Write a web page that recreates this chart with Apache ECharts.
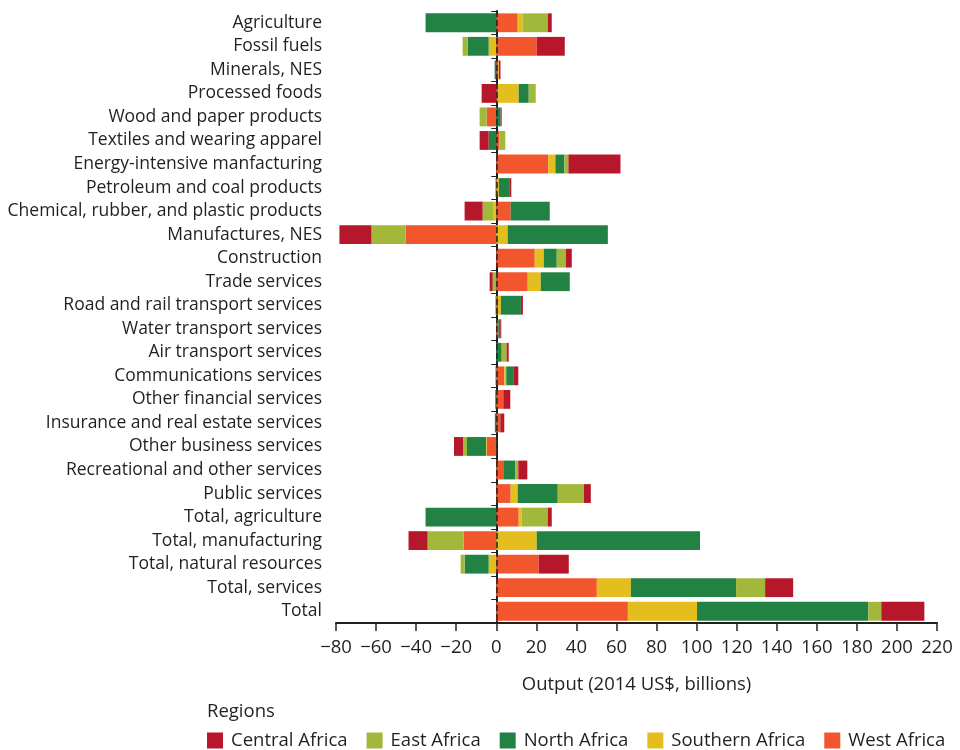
<!DOCTYPE html>
<html>
<head>
<meta charset="utf-8">
<script src="https://cdn.jsdelivr.net/npm/echarts@6/dist/echarts.min.js"></script>
<style>
  html, body { margin: 0; padding: 0; background: #fff; }
  #chart { width: 960px; height: 750px; }
</style>
</head>
<body>
<div id="chart"></div>
<script>
const categories = [
    'Agriculture', 'Fossil fuels', 'Minerals, NES', 'Processed foods',
    'Wood and paper products', 'Textiles and wearing apparel',
    'Energy-intensive manfacturing', 'Petroleum and coal products',
    'Chemical, rubber, and plastic products', 'Manufactures, NES',
    'Construction', 'Trade services', 'Road and rail transport services',
    'Water transport services', 'Air transport services',
    'Communications services', 'Other financial services',
    'Insurance and real estate services', 'Other business services',
    'Recreational and other services', 'Public services',
    'Total, agriculture', 'Total, manufacturing', 'Total, natural resources',
    'Total, services', 'Total'
];

// values in 2014 US$ billions
const westAfrica = [10.7, 20.2, 1.0, 0.5, -4.8, 1.5, 26, 0.3, 7.2, -45.3, 19.2, 15.7, 0.8,
    1.0, 0, 4, 3.5, 2, -4.8, 3.5, 7.2, 11.2, -16.3, 21.2, 50.2, 65.7];
const southernAfrica = [2.5, -3.8, 0.3, 10.7, 0, 0, 3.5, 1.0, -1.3, 5.7, 4.5, 6.5, 1.5,
    0, 0, 1, 0, 0, -0.3, 0, 3.5, 1.5, 20.2, -3.8, 17, 34.5];
const northAfrica = [-35.3, -10.5, -0.8, 5, 2.2, -3.8, 4.5, 5.2, 19.5, 50, 6.5, 14.5, 10,
    1, 2.7, 3.5, -0.5, -0.7, -9.5, 6, 20, -35.3, 81.5, -12, 52.5, 85.5];
const eastAfrica = [12.5, -2.5, 0, 3.5, -3.5, 3, 2, -0.5, -5.5, -17, 4.5, -1.8, -0.5,
    0, 2.5, -0.5, 0, 0, -2, 1.5, 13, 13, -18, -2, 14.5, 6.5];
const centralAfrica = [2, 14, 0.8, -7.3, 0.5, -4.5, 26, 1, -9, -16, 3, -1.5, 1,
    0.5, 1, 2.5, 3.5, 2, -4.5, 4.5, 3.5, 2, -9.5, 15, 14, 21.5];

const xTicks = { min: -80, max: 220, interval: 20 };
const legendOrder = ['Central Africa', 'East Africa', 'North Africa', 'Southern Africa', 'West Africa'];

const FONT = 'Open Sans';
const TEXT = '#231f20';

const colors = {
    'Central Africa': '#b7172a',
    'East Africa': '#a1b83b',
    'North Africa': '#228244',
    'Southern Africa': '#e4bd1f',
    'West Africa': '#f1562d'
};

// stacking order from zero outward
const stackSeries = [
    ['West Africa', westAfrica],
    ['Southern Africa', southernAfrica],
    ['North Africa', northAfrica],
    ['East Africa', eastAfrica],
    ['Central Africa', centralAfrica]
];

const chart = echarts.init(document.getElementById('chart'));

const series = stackSeries.map(([name, data], i) => {
    const s = {
        name: name,
        type: 'bar',
        stack: 'total',
        barWidth: '80%',
        itemStyle: { color: colors[name] },
        data: data
    };
    if (i === stackSeries.length - 1) {
        // dashed zero line drawn over the bars
        s.markLine = {
            silent: true,
            symbol: ['none', 'none'],
            label: { show: false },
            lineStyle: { type: [6, 3], color: '#222', width: 1.5 },
            data: [{ xAxis: 0 }],
            animation: false
        };
    }
    return s;
});

const option = {
    animation: false,
    textStyle: { fontFamily: FONT, color: TEXT },
    title: {
        text: 'Regions',
        left: 202,
        top: 697,
        textStyle: { fontFamily: FONT, fontSize: 18.5, fontWeight: 'normal', color: TEXT }
    },
    legend: {
        data: legendOrder,
        left: 202,
        top: 726,
        itemWidth: 16,
        itemHeight: 16,
        itemGap: 19,
        icon: 'rect',
        textStyle: { fontFamily: FONT, fontSize: 18.5, color: TEXT, padding: [0, 0, 0, 3] }
    },
    grid: { left: 336, right: 23, top: 11, bottom: 127, containLabel: false },
    xAxis: {
        type: 'value',
        min: xTicks.min,
        max: xTicks.max,
        interval: xTicks.interval,
        name: 'Output (2014 US$, billions)',
        nameLocation: 'middle',
        nameGap: 52,
        nameTextStyle: { fontFamily: FONT, fontSize: 18.5, color: TEXT },
        axisLine: { show: true, lineStyle: { color: TEXT, width: 2 } },
        axisTick: { show: true, length: 8, lineStyle: { color: TEXT, width: 1.5 } },
        axisLabel: {
            fontFamily: FONT, fontSize: 18.5, color: TEXT, margin: 15,
            formatter: v => (v < 0 ? '\u2212' + Math.abs(v) : String(v))
        },
        splitLine: { show: false }
    },
    yAxis: {
        type: 'category',
        inverse: true,
        data: categories,
        axisLine: { show: true, lineStyle: { color: TEXT, width: 2 } },
        axisTick: { show: true, length: 5, lineStyle: { color: TEXT, width: 1 } },
        axisLabel: { fontFamily: FONT, fontSize: 17.5, color: TEXT, margin: 14 },
        splitLine: { show: false }
    },
    series: series
};

chart.setOption(option);
</script>
</body>
</html>
